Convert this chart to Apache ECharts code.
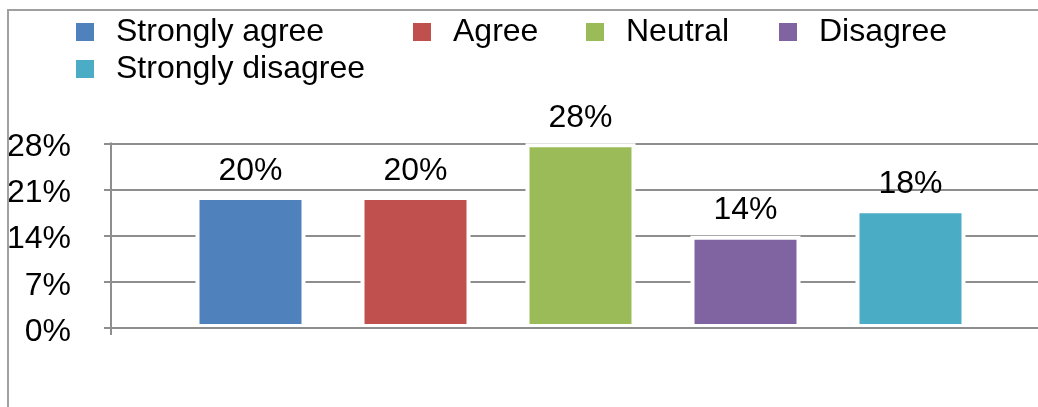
<!DOCTYPE html>
<html>
<head>
<meta charset="utf-8">
<script src="https://cdn.jsdelivr.net/npm/echarts@6/dist/echarts.min.js"></script>
<style>
  html, body { margin: 0; padding: 0; background: #fff; }
  #chart { width: 1038px; height: 407px; }
</style>
</head>
<body>
<div id="chart"></div>
<script>
// Survey answers, share of respondents (%)
const responses = ['Strongly agree', 'Agree', 'Neutral', 'Disagree', 'Strongly disagree'];
const shares = [20, 20, 28, 14, 18];
const colors = ['#4f81bd', '#c0504d', '#9bbb59', '#8064a2', '#4bacc6'];
const yTicks = [0, 7, 14, 21, 28];

const FONT = '"Liberation Sans", Arial, Helvetica, sans-serif';
const AXIS_GRAY = '#8e8e8e';

const chart = echarts.init(document.getElementById('chart'), null, { renderer: 'canvas' });

// Legend entries: four on the first row, the last one wrapped below
const legendSpots = [
  { left: 74, top: 16 },
  { left: 411, top: 16 },
  { left: 584, top: 16 },
  { left: 777, top: 16 },
  { left: 74, top: 53 }
];

const legends = responses.map((name, i) => ({
  data: [name],
  left: legendSpots[i].left,
  top: legendSpots[i].top,
  padding: 0,
  orient: 'horizontal',
  icon: 'rect',
  itemWidth: 20,
  itemHeight: 20,
  selectedMode: false,
  textStyle: {
    fontFamily: FONT,
    fontSize: 32,
    color: '#000',
    padding: [0, 0, 0, 16]
  }
}));

const series = responses.map((name, i) => ({
  name: name,
  type: 'bar',
  data: [shares[i]],
  barWidth: 110,
  barGap: '50%',
  itemStyle: { color: colors[i], borderColor: '#ffffff', borderWidth: 4 },
  label: {
    show: true,
    position: 'top',
    distance: 9,
    formatter: p => p.value + '%',
    fontFamily: FONT,
    fontSize: 32,
    color: '#000'
  }
}));

chart.setOption({
  animation: false,
  backgroundColor: '#ffffff',
  legend: legends,
  // the plot runs a little past the right edge of the canvas
  grid: { left: 111, width: 939, top: 143.3, bottom: 79, containLabel: false, outerBoundsMode: 'none' },
  xAxis: {
    type: 'category',
    data: [''],
    z: 5,
    axisLine: { show: true, lineStyle: { color: AXIS_GRAY, width: 2 } },
    axisTick: { show: true, length: 7, lineStyle: { color: AXIS_GRAY, width: 2 } },
    axisLabel: { show: false },
    splitLine: { show: false }
  },
  yAxis: {
    type: 'value',
    min: yTicks[0],
    max: yTicks[yTicks.length - 1],
    interval: yTicks[1] - yTicks[0],
    axisLine: { show: true, lineStyle: { color: AXIS_GRAY, width: 2 } },
    axisTick: { show: true, length: 7, lineStyle: { color: AXIS_GRAY, width: 2 } },
    splitLine: { show: true, lineStyle: { color: AXIS_GRAY, width: 2 } },
    axisLabel: {
      margin: 40,
      formatter: v => '{v|' + v + '%}',
      rich: {
        v: {
          fontFamily: FONT,
          fontSize: 32,
          color: '#000',
          padding: [8, 0, 0, 0]
        }
      }
    }
  },
  graphic: [{
    // chart frame: top and left edges are visible
    type: 'rect',
    z: 100,
    silent: true,
    shape: { x: 8, y: 10, width: 2000, height: 2000 },
    style: { fill: 'none', stroke: '#a0a0a0', lineWidth: 2 }
  }],
  series: series
});
</script>
</body>
</html>
